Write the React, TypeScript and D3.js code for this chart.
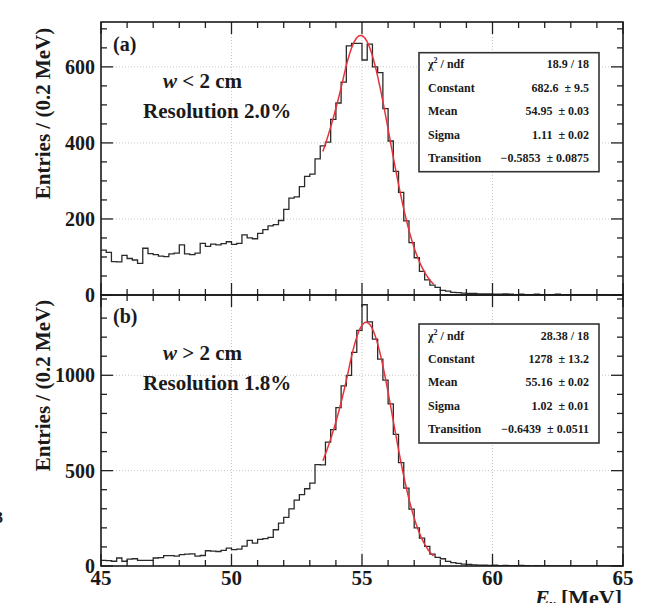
import React from "react";
import * as d3 from "d3";

// ---------- data ----------
const X_DOMAIN = [45, 65];
const BIN_WIDTH = 0.2;

const countsA = [
  118, 112, 88, 87, 104, 96, 92, 83, 123, 109,
  106, 102, 101, 108, 110, 132, 108, 106, 110, 136,
  128, 134, 132, 135, 140, 133, 136, 158, 150, 148,
  162, 172, 182, 185, 196, 225, 255, 258, 285, 312,
  318, 358, 392, 402, 462, 505, 560, 655, 662, 662,
  618, 660, 600, 585, 490, 405, 325, 270, 195, 138,
  98, 62, 40, 26, 20, 12, 10, 7, 6, 5,
  4, 4, 3, 3, 3, 2, 2, 3, 2, 1,
  2, 1, 1, 2, 1, 0, 1, 2, 0, 1,
  0, 0, 1, 0, 0, 0, 0, 0, 0, 0,
];

const countsB = [
  29, 28, 25, 42, 25, 36, 38, 30, 30, 29,
  42, 44, 54, 54, 52, 60, 62, 64, 52, 55,
  80, 78, 76, 82, 94, 86, 88, 104, 134, 120,
  140, 144, 150, 190, 225, 255, 300, 345, 374, 405,
  435, 532, 530, 650, 715, 830, 945, 1000, 1120, 1235,
  1370, 1280, 1190, 1085, 975, 850, 690, 542, 408, 298,
  200, 146, 103, 62, 45, 38, 24, 18, 14, 10,
  8, 6, 5, 4, 3, 4, 2, 3, 2, 2,
  3, 2, 1, 2, 1, 1, 0, 1, 0, 1,
  0, 0, 0, 0, 0, 0, 0, 0, 0, 0,
];

// fit parameters: constant, mean, sigma, transition
const fitParamsA = [682.6, 54.95, 1.11, -0.5853];
const fitParamsB = [1278, 55.16, 1.02, -0.6439];
const FIT_RANGE = [53.5, 57.75];

const xTicks = [45, 50, 55, 60, 65];
const yTicksA = [0, 200, 400, 600];
const yTicksB = [0, 500, 1000];

const statLabels = ["Constant", "Mean", "Sigma", "Transition"];
const statsA = ["18.9 / 18", "682.6  \u00b1 9.5", "54.95  \u00b1 0.03", "1.11  \u00b1 0.02", "\u22120.5853  \u00b1 0.0875"];
const statsB = ["28.38 / 18", "1278  \u00b1 13.2", "55.16  \u00b1 0.02", "1.02  \u00b1 0.01", "\u22120.6439  \u00b1 0.0511"];

// ---------- layout ----------
const W = 655;
const H = 603;
const X0 = 101;
const X1 = 623;
const serif = "'Liberation Serif', 'Times New Roman', serif";

const x = d3.scaleLinear().domain(X_DOMAIN).range([X0, X1]);

function fitValue(p: number[], e: number) {
  const [c, m, s, t] = p;
  const z = (e - m) / s;
  if (z > t) return c * Math.exp(-0.5 * z * z);
  return c * Math.exp(0.5 * t * t - t * z);
}

type PanelProps = {
  counts: number[];
  fit: number[];
  yMax: number;
  top: number;
  bottom: number;
  yTicks: number[];
  yMinorStep: number;
  stats: string[];
  boxTop: number;
  tag: string;
  cond: string;
  resolution: string;
  textTop: number;
  clipId: string;
};

function Panel(p: PanelProps) {
  const y = d3.scaleLinear().domain([0, p.yMax]).range([p.bottom, p.top]);
  const pts: [number, number][] = p.counts.map((v, i) => [X_DOMAIN[0] + i * BIN_WIDTH, v]);
  pts.push([X_DOMAIN[0] + p.counts.length * BIN_WIDTH, p.counts[p.counts.length - 1]]);
  const hist = d3
    .line<[number, number]>()
    .x((d) => x(d[0]))
    .y((d) => y(d[1]))
    .curve(d3.curveStepAfter)(pts);

  const fx = d3.range(FIT_RANGE[0], FIT_RANGE[1] + 1e-9, 0.02);
  const fitPath = d3
    .line<number>()
    .x((e) => x(e))
    .y((e) => y(fitValue(p.fit, e)))
    .curve(d3.curveLinear)(fx);

  const xMinor = d3.range(X_DOMAIN[0], X_DOMAIN[1] + 0.001, 1);
  const yMinor = d3.range(0, p.yMax, p.yMinorStep);
  const majorLen = 12;
  const minorLen = 6;

  const boxL = 419;
  const boxR = 599;
  const rowH = 23.4;

  return (
    <g>
      <clipPath id={p.clipId}>
        <rect x={X0} y={p.top} width={X1 - X0} height={p.bottom - p.top} />
      </clipPath>
      {/* grid */}
      {xTicks
        .filter((t) => t > X_DOMAIN[0] && t < X_DOMAIN[1])
        .map((t) => (
          <line key={"gx" + t} x1={x(t)} x2={x(t)} y1={p.top} y2={p.bottom} stroke="#c8c8c8" strokeWidth={1} strokeDasharray="1,2" />
        ))}
      {p.yTicks
        .filter((t) => t > 0)
        .map((t) => (
          <line key={"gy" + t} x1={X0} x2={X1} y1={y(t)} y2={y(t)} stroke="#c8c8c8" strokeWidth={1} strokeDasharray="1,2" />
        ))}
      {/* histogram */}
      <path d={hist || ""} fill="none" stroke="#2a2a2a" strokeWidth={1.3} clipPath={`url(#${p.clipId})`} />
      <path d={fitPath || ""} fill="none" stroke="#e8323a" strokeWidth={1.5} clipPath={`url(#${p.clipId})`} />
      {/* ticks */}
      {xMinor.map((t) => {
        const major = Math.abs(t % 5) < 1e-6;
        const len = major ? majorLen : minorLen;
        return (
          <g key={"xt" + t}>
            <line x1={x(t)} x2={x(t)} y1={p.bottom} y2={p.bottom - len} stroke="#222" strokeWidth={1.3} />
            <line x1={x(t)} x2={x(t)} y1={p.top} y2={p.top + len} stroke="#222" strokeWidth={1.3} />
          </g>
        );
      })}
      {yMinor.map((t) => {
        const major = p.yTicks.includes(t);
        const len = major ? majorLen : minorLen;
        return (
          <g key={"yt" + t}>
            <line x1={X0} x2={X0 + len} y1={y(t)} y2={y(t)} stroke="#222" strokeWidth={1.3} />
            <line x1={X1} x2={X1 - len} y1={y(t)} y2={y(t)} stroke="#222" strokeWidth={1.3} />
          </g>
        );
      })}
      {/* frame */}
      <rect x={X0} y={p.top} width={X1 - X0} height={p.bottom - p.top} fill="none" stroke="#1a1a1a" strokeWidth={1.6} />
      {/* y tick labels */}
      {p.yTicks.map((t) => (
        <text key={"yl" + t} x={95} y={y(t)} dy="0.35em" textAnchor="end" fontFamily={serif} fontWeight="bold" fontSize={20} fill="#1a1a1a">
          {t}
        </text>
      ))}
      {/* y label */}
      <text
        transform={`translate(50,${(p.top + p.bottom) / 2 - 45}) rotate(-90)`}
        textAnchor="middle"
        fontFamily={serif}
        fontWeight="bold"
        fontSize={21}
        fill="#1a1a1a"
      >
        Entries / (0.2 MeV)
      </text>
      {/* annotations */}
      <text x={113} y={p.textTop} fontFamily={serif} fontWeight="bold" fontSize={20} fill="#1a1a1a">
        {p.tag}
      </text>
      <text x={163} y={p.textTop + 37} fontFamily={serif} fontWeight="bold" fontSize={21} fill="#1a1a1a">
        <tspan fontStyle="italic">w</tspan>
        {p.cond}
      </text>
      <text x={143} y={p.textTop + 67} fontFamily={serif} fontWeight="bold" fontSize={21} fill="#1a1a1a">
        {p.resolution}
      </text>
      {/* stats box */}
      <rect x={boxL} y={p.boxTop} width={boxR - boxL} height={119} fill="#fff" stroke="#333" strokeWidth={1.6} />
      <text x={428} y={p.boxTop + 15.6} fontFamily={serif} fontWeight="bold" fontSize={12} fill="#1a1a1a">
        {"\u03c7"}
        <tspan fontSize={8} dy={-5}>
          2
        </tspan>
        <tspan dy={5}>{" / ndf"}</tspan>
      </text>
      <text x={589} y={p.boxTop + 15.6} textAnchor="end" fontFamily={serif} fontWeight="bold" fontSize={12} fill="#1a1a1a">
        {p.stats[0]}
      </text>
      {statLabels.map((lab, i) => (
        <g key={lab}>
          <text x={428} y={p.boxTop + 15.6 + (i + 1) * rowH} fontFamily={serif} fontWeight="bold" fontSize={12} fill="#1a1a1a">
            {lab}
          </text>
          <text x={589} y={p.boxTop + 15.6 + (i + 1) * rowH} textAnchor="end" fontFamily={serif} fontWeight="bold" fontSize={12} fill="#1a1a1a" style={{ whiteSpace: "pre" }}>
            {p.stats[i + 1]}
          </text>
        </g>
      ))}
    </g>
  );
}

export default function App() {
  return (
    <svg width={W} height={H} style={{ position: "absolute", left: 0, top: 0, background: "#fff" }}>
      <rect x={0} y={0} width={W} height={H} fill="#fff" />
      <Panel
        counts={countsA}
        fit={fitParamsA}
        yMax={718}
        top={22}
        bottom={295}
        yTicks={yTicksA}
        yMinorStep={50}
        stats={statsA}
        boxTop={52.7}
        tag="(a)"
        cond=" < 2 cm"
        resolution="Resolution 2.0%"
        textTop={51}
        clipId="clipA"
      />
      <Panel
        counts={countsB}
        fit={fitParamsB}
        yMax={1421}
        top={295}
        bottom={566}
        yTicks={yTicksB}
        yMinorStep={100}
        stats={statsB}
        boxTop={324}
        tag="(b)"
        cond=" > 2 cm"
        resolution="Resolution 1.8%"
        textTop={323}
        clipId="clipB"
      />
      {/* x tick labels (bottom panel) */}
      {xTicks.map((t) => (
        <text key={"xl" + t} x={x(t)} y={585} textAnchor="middle" fontFamily={serif} fontWeight="bold" fontSize={21} fill="#1a1a1a">
          {t}
        </text>
      ))}
      {/* x label */}
      <text x={622} y={605} textAnchor="end" fontFamily={serif} fontWeight="bold" fontSize={22} fill="#1a1a1a">
        <tspan fontStyle="italic">E</tspan>
        <tspan fontSize={14} dy={4} fontStyle="italic">{"\u03b3"}</tspan>
        <tspan dy={-4}>{" [MeV]"}</tspan>
      </text>
      {/* stray clipped glyph at left edge */}
      <text x={-5} y={523} fontFamily={serif} fontWeight="bold" fontSize={16} fill="#1a1a1a">
        3
      </text>
    </svg>
  );
}
